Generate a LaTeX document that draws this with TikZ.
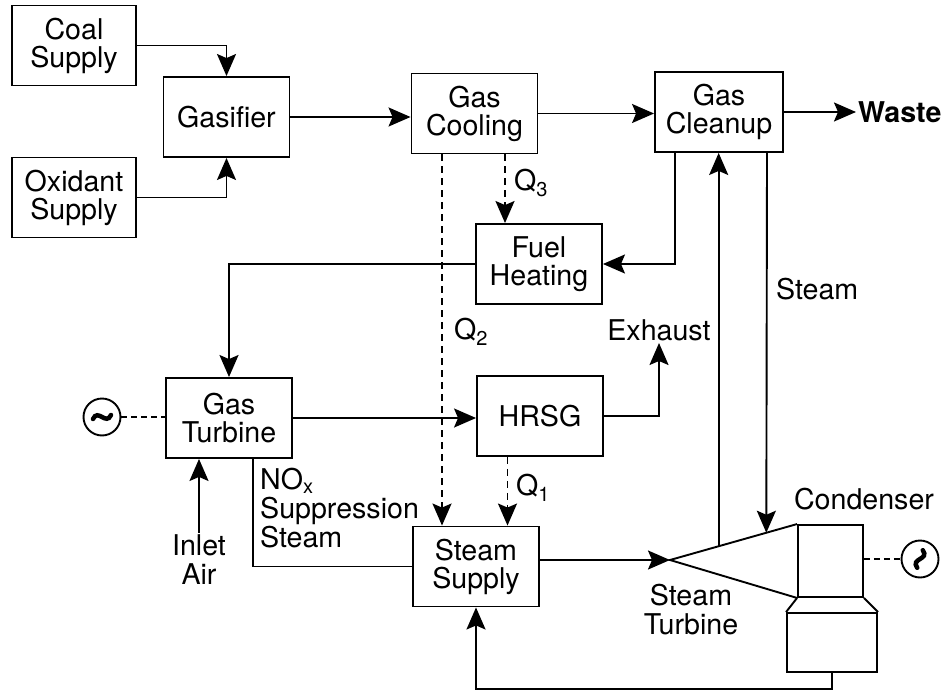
\documentclass[tikz,border=0pt]{standalone}
\usepackage{fontspec}
\setmainfont{TeX Gyre Heros}
\usetikzlibrary{arrows.meta,calc}

\begin{document}
\begin{tikzpicture}[
    x=1pt, y=-1pt,
    unit/.style={draw, line width=1.9pt, minimum width=126pt, minimum height=80pt, inner sep=0pt, align=center, font=\fontsize{28.6}{28}\selectfont},
    lbl/.style={inner sep=2pt, align=left, font=\fontsize{28.6}{29}\selectfont},
    flow/.style={-{Stealth[length=22pt,width=19pt,inset=4pt]}, line width=1.9pt},
    pipe/.style={-, line width=1.9pt},
    heat/.style={-{Stealth[length=22pt,width=19pt,inset=4pt]}, line width=1.9pt, dash pattern=on 7pt off 5pt},
    elec/.style={-, line width=1.9pt, dash pattern=on 6pt off 4pt},
    gen/.style={circle, draw, line width=1.9pt, minimum size=37pt, inner sep=0pt},
    wave/.style={line width=4.5pt, line cap=round}
]
    \useasboundingbox (0,0) rectangle (952,695);

    % Caixas do processo
    \node[unit, minimum width=124pt] (coal) at (74,45.5) {Coal\\Supply};
    \node[unit, minimum width=124pt] (oxid) at (74,197.5) {Oxidant\\Supply};
    \node[unit] (gasif) at (226.5,117) {Gasifier};
    \node[unit] (cool) at (474.5,113.5) {Gas\\Cooling};
    \node[unit, minimum width=128pt] (clean) at (719,112) {Gas\\Cleanup};
    \node[unit] (fuel) at (539,264) {Fuel\\Heating};
    \node[unit] (gasturb) at (229,418) {Gas\\Turbine};
    \node[unit] (hrsg) at (540,416) {HRSG};
    \node[unit] (ssup) at (476,566.5) {Steam\\Supply};

    % Condensador e turbina a vapor
    \node[draw, line width=1.9pt, minimum width=65pt, minimum height=72pt, inner sep=0pt] (condup) at (830.5,561) {};
    \node[draw, line width=1.9pt, minimum width=90pt, minimum height=59pt, inner sep=0pt] (condlow) at (832,642.5) {};
    \coordinate (stapex) at (670,560);
    \draw[pipe] (condup.north west) -- (stapex) -- (condup.south west);
    \draw[pipe] (condup.south west) -- (condlow.north west);
    \draw[pipe] (condup.south east) -- (condlow.north east);
    \coordinate (stup) at ($(stapex)!0.383!(condup.north west)$);
    \coordinate (stdown) at ($(stapex)!0.758!(condup.north west)$);

    % Geradores
    \node[gen] (gen1) at (102,417) {};
    \node[gen] (gen2) at (920,559) {};
    \draw[wave] ([xshift=-9pt,yshift=-2pt]gen1.center) .. controls +(5pt,11pt) and +(-5pt,-11pt) .. ([xshift=9pt,yshift=2pt]gen1.center);
    \draw[wave] ([xshift=-2.8pt,yshift=-8.8pt]gen2.center) .. controls +(-7pt,9.8pt) and +(7pt,-9.8pt) .. ([xshift=2.8pt,yshift=8.8pt]gen2.center);

    % Rótulos
    \node[lbl, anchor=west, font=\fontsize{28.6}{29}\selectfont\bfseries] (waste) at (856,112) {Waste};
    \node[lbl, anchor=south] (exhaust) at (659,343) {Exhaust};
    \node[lbl, anchor=west] (steamlbl) at (774,289) {Steam};
    \node[lbl] (condlbl) at (864,499) {Condenser};
    \node[lbl, align=center] (stlbl) at (691,610) {Steam\\Turbine};
    \node[lbl, align=center] (inlet) at (199,560) {Inlet\\Air};
    \node[lbl, anchor=north west] (noxlbl) at (258,466) {NO\textsubscript{x}\\Suppression\\Steam};
    \node[lbl, anchor=west] (q3) at (512,183) {Q\textsubscript{3}};
    \node[lbl, anchor=west] (q2) at (452,332) {Q\textsubscript{2}};
    \node[lbl, anchor=west] (q1) at (514,488) {Q\textsubscript{1}};

    % Fluxos de gás
    \draw[flow] (coal.east) -| (gasif.north);
    \draw[flow] (oxid.east) -| (gasif.south);
    \draw[flow] (gasif.east) -- (gasif.east -| cool.west);
    \draw[flow] (cool.east) -- (cool.east -| clean.west);
    \draw[flow] (clean.east) -- (waste.west);
    \draw[flow] ([xshift=-44pt]clean.south) |- (fuel.east);
    \draw[flow] (fuel.west) -| (gasturb.north);
    \draw[flow] (gasturb.east) -- (gasturb.east -| hrsg.west);
    \draw[flow] (hrsg.east) -| (exhaust.south);
    \draw[flow] (inlet.north) -- (inlet.north |- gasturb.south);

    % Calor (tracejado)
    \draw[heat] ([xshift=30.5pt]cool.south) -- ([xshift=30.5pt]cool.south |- fuel.north);
    \draw[heat] ([xshift=-32.5pt]cool.south) -- ([xshift=-32.5pt]cool.south |- ssup.north);
    \draw[heat] ([xshift=-32.5pt]hrsg.south) -- ([xshift=-32.5pt]hrsg.south |- ssup.north);

    % Vapor
    \draw[pipe] ([xshift=24pt]gasturb.south) |- (ssup.west);
    \draw[flow] (ssup.east |- stapex) -- (stapex);
    \draw[flow] (stup) -- (stup |- clean.south);
    \draw[flow] ([xshift=48pt]clean.south) -- (stdown);
    \draw[flow] (condlow.south) -- ++(0,16) -| (ssup.south);

    % Ligações elétricas
    \draw[elec] (gen1) -- (gen1 -| gasturb.west);
    \draw[elec] (condup.east |- gen2) -- (gen2);

\end{tikzpicture}
\end{document}
